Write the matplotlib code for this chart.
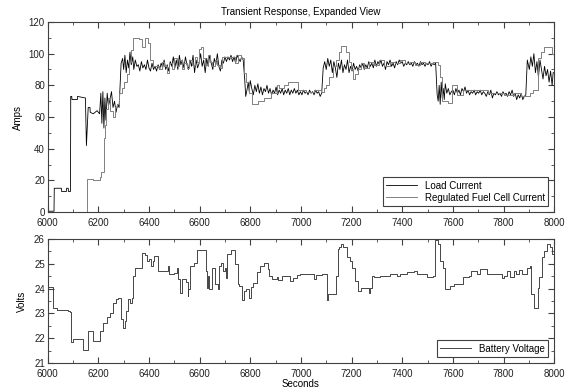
import matplotlib
matplotlib.use("Agg")
import matplotlib.pyplot as plt
from matplotlib.ticker import MultipleLocator

plt.rcParams['font.family'] = ['Liberation Sans', 'DejaVu Sans']
plt.rcParams['font.size'] = 7

# load current (black): seconds / amps
load_t = [6000, 6025, 6026, 6054, 6055, 6074, 6075, 6081, 6082, 6090, 6091, 6095, 6096, 6117,
          6118, 6149, 6153, 6160, 6167, 6168, 6180, 6195,
          6205, 6210, 6214, 6218, 6222, 6226, 6230, 6235, 6240, 6246, 6252, 6258, 6264, 6270,
          6276, 6282, 6290, 6296, 6300, 6305, 6310, 6315, 6320, 6325, 6330, 6336, 6340, 6346,
          6352, 6358, 6364, 6370, 6376, 6382, 6388, 6394, 6400, 6406, 6412, 6418, 6424, 6430,
          6436, 6442, 6448, 6454, 6460, 6466, 6472, 6478, 6484, 6490, 6496, 6502, 6508, 6514,
          6520, 6526, 6532, 6538, 6544, 6550, 6556, 6562, 6568, 6574, 6580, 6586, 6592, 6598,
          6604, 6610, 6616, 6622, 6628, 6634, 6640, 6646, 6652, 6658, 6664, 6670, 6676, 6682,
          6688, 6694, 6700, 6706, 6712, 6718, 6724, 6730, 6736, 6742, 6748, 6754, 6760, 6766,
          6772, 6778, 6782, 6788, 6792, 6796, 6800, 6806, 6812, 6818, 6824, 6830, 6836, 6842,
          6848, 6854, 6860, 6866, 6872, 6878, 6884, 6890, 6896, 6902, 6908, 6914, 6920, 6926,
          6932, 6938, 6944, 6950, 6956, 6962, 6968, 6974, 6980, 6986, 6992, 6998, 7004, 7010,
          7016, 7022, 7028, 7034, 7040, 7046, 7052, 7058, 7064, 7070, 7076, 7082, 7088, 7094,
          7100, 7106, 7112, 7118, 7124, 7130, 7136, 7142, 7148, 7154, 7160, 7166, 7172, 7178,
          7184, 7190, 7196, 7202, 7208, 7214, 7220, 7226, 7232, 7238, 7244, 7250, 7256, 7262,
          7268, 7274, 7280, 7286, 7292, 7298, 7304, 7310, 7316, 7322, 7328, 7334, 7340, 7346,
          7352, 7358, 7364, 7370, 7376, 7382, 7388, 7394, 7400, 7406, 7412, 7418, 7424, 7430,
          7436, 7442, 7448, 7454, 7460, 7466, 7472, 7478, 7484, 7490, 7496, 7502, 7508, 7514,
          7520, 7526, 7532, 7538, 7542, 7546, 7550, 7554, 7558, 7562, 7566, 7570, 7576, 7582,
          7588, 7594, 7600, 7606, 7612, 7618, 7624, 7630, 7636, 7642, 7648, 7654, 7660, 7666,
          7672, 7678, 7684, 7690, 7696, 7702, 7708, 7714, 7720, 7726, 7732, 7738, 7744, 7750,
          7756, 7762, 7768, 7774, 7780, 7786, 7792, 7798, 7804, 7810, 7816, 7822, 7828, 7834,
          7840, 7846, 7852, 7858, 7864, 7870, 7876, 7882, 7888, 7894, 7902, 7908, 7914, 7920,
          7926, 7932, 7938, 7944, 7950, 7956, 7962, 7968, 7974, 7980, 7986, 7992, 7996, 8000]
load_a = [0.5, 0.5, 15, 15, 13, 13, 15, 15, 13, 13, 73, 73, 71, 71,
          73, 72, 42, 66, 66, 63, 62, 64,
          62, 75, 56, 76, 53, 72, 58, 75, 67, 71, 76, 66, 70, 63,
          68, 66, 94, 97, 90, 99, 88, 96, 91, 101, 93, 98, 90, 96,
          92, 93, 89, 95, 91, 93, 90, 96, 91, 89, 94, 90, 92, 89,
          93, 90, 94, 91, 96, 90, 93, 89, 95, 92, 98, 91, 96, 90,
          99, 93, 96, 91, 98, 93, 90, 96, 92, 99, 88, 96, 91, 94,
          100, 92, 96, 88, 97, 92, 99, 94, 90, 97, 93, 100, 92, 89,
          96, 94, 98, 95, 98, 96, 99, 95, 98, 94, 99, 97, 95, 98,
          96, 84, 73, 78, 82, 76, 83, 78, 74, 80, 76, 81, 75, 79,
          74, 78, 76, 80, 75, 78, 74, 77, 75, 79, 74, 77, 75, 78,
          74, 77, 75, 78, 74, 77, 75, 78, 75, 77, 74, 76, 74, 77,
          75, 76, 74, 77, 75, 76, 74, 77, 75, 76, 73, 75, 91, 95,
          90, 97, 92, 96, 88, 95, 91, 85, 94, 90, 96, 88, 93, 90,
          96, 88, 92, 89, 94, 90, 92, 89, 93, 91, 94, 90, 93, 91,
          95, 92, 94, 91, 96, 92, 95, 93, 96, 92, 94, 90, 95, 93,
          96, 92, 94, 91, 95, 93, 96, 94, 95, 92, 94, 93, 95, 93,
          94, 92, 95, 93, 94, 92, 95, 93, 94, 92, 94, 93, 95, 92,
          94, 93, 94, 74, 70, 80, 68, 82, 72, 78, 71, 81, 75, 78,
          74, 76, 77, 74, 78, 75, 77, 74, 78, 76, 79, 75, 77, 74,
          76, 75, 77, 74, 76, 75, 77, 74, 76, 75, 73, 76, 74, 77,
          72, 75, 74, 76, 74, 75, 73, 76, 74, 75, 73, 76, 74, 77,
          73, 75, 71, 74, 72, 75, 71, 73, 74, 96, 90, 98, 92, 100,
          88, 95, 85, 96, 90, 84, 92, 86, 90, 82, 89, 80, 88, 88]

# regulated fuel cell current (grey), step breakpoints
cell_t = [6000, 6155, 6180, 6205, 6212, 6222, 6226, 6232, 6240, 6248, 6256, 6266, 6274, 6282,
          6292, 6302, 6312, 6320, 6328, 6336, 6360, 6374, 6386, 6396, 6404, 6414, 6440, 6450,
          6460, 6470, 6480, 6490, 6500, 6510, 6520, 6530, 6540, 6550, 6560, 6570, 6580, 6590,
          6596, 6606, 6614, 6622, 6632, 6640, 6650, 6660, 6670, 6680, 6690, 6700, 6740, 6750,
          6762, 6775, 6785, 6795, 6808, 6830, 6855, 6880, 6905, 6915, 6935, 6950, 6990, 7020,
          7050, 7080, 7090, 7100, 7112, 7125, 7140, 7150, 7158, 7178, 7188, 7196, 7204, 7214,
          7224, 7236, 7250, 7270, 7290, 7310, 7330, 7350, 7370, 7390, 7410, 7430, 7450, 7470,
          7490, 7520, 7540, 7548, 7556, 7580, 7598, 7618, 7640, 7740, 7800, 7840, 7870, 7905,
          7918, 7935, 7948, 7958, 7992, 8000]
cell_a = [0, 21, 20, 22, 25, 47, 55, 65, 72, 64, 60, 66, 68, 75,
          78, 82, 87, 95, 102, 110, 109, 104, 110, 107, 96, 92, 90, 95,
          92, 88, 94, 90, 97, 92, 96, 90, 94, 91, 96, 93, 98, 95,
          103, 104, 97, 93, 99, 95, 92, 96, 93, 91, 98, 98, 94, 99,
          97, 88, 82, 75, 68, 70, 72, 75, 80, 78, 80, 82, 77, 76,
          77, 76, 78, 80, 85, 92, 96, 101, 105, 101, 95, 90, 84, 87,
          90, 94, 91, 95, 93, 96, 92, 95, 94, 96, 94, 95, 93, 95,
          94, 95, 93, 85, 70, 69, 80, 74, 77, 75, 74, 75, 73, 75,
          77, 97, 101, 104, 100, 100]

# battery voltage, step breakpoints
batt_t = [6000, 6022, 6036, 6082, 6088, 6092, 6101, 6138, 6160, 6180, 6207, 6220, 6233, 6246,
          6259, 6268, 6278, 6289, 6296, 6305, 6311, 6318, 6325, 6331, 6338, 6345, 6358, 6374,
          6385, 6394, 6400, 6407, 6414, 6420, 6427, 6437, 6470, 6477, 6480, 6500, 6510, 6516,
          6523, 6530, 6546, 6553, 6556, 6563, 6576, 6590, 6624, 6628, 6635, 6639, 6648, 6661,
          6671, 6678, 6684, 6691, 6700, 6704, 6707, 6724, 6741, 6750, 6757, 6767, 6777, 6784,
          6795, 6803, 6812, 6822, 6828, 6839, 6845, 6855, 6870, 6875, 6885, 6905, 6911, 6924,
          6950, 6957, 6970, 6983, 6997, 7023, 7047, 7052, 7060, 7083, 7102, 7106, 7139, 7146,
          7152, 7160, 7168, 7181, 7195, 7201, 7214, 7227, 7238, 7267, 7274, 7280, 7290, 7313,
          7340, 7353, 7372, 7379, 7392, 7418, 7445, 7458, 7484, 7497, 7521, 7530, 7540, 7550,
          7563, 7567, 7590, 7603, 7642, 7662, 7671, 7682, 7695, 7708, 7734, 7748, 7794, 7803,
          7813, 7827, 7840, 7850, 7860, 7873, 7893, 7906, 7908, 7919, 7935, 7942, 7952, 7959,
          7972, 7982, 7991, 8000]
batt_v = [24.08, 23.2, 23.15, 23.1, 23.05, 21.84, 21.95, 21.54, 22.28, 21.9, 22.3, 22.6, 22.85, 23.0,
          23.43, 23.57, 23.64, 22.76, 22.42, 22.7, 23.1, 23.57, 23.43, 23.64, 24.51, 24.85, 24.85, 25.42,
          25.36, 25.12, 25.18, 24.92, 25.1, 25.32, 25.3, 24.72, 24.69, 24.92, 24.58, 24.62, 24.85, 24.38,
          23.84, 24.38, 24.25, 23.7, 24.0, 24.92, 25.03, 25.55, 24.7, 24.04, 24.5, 24.0, 24.85, 24.2,
          24.0, 24.92, 25.05, 24.7, 24.85, 24.41, 25.39, 25.55, 25.0, 24.18, 24.1, 23.54, 23.9, 24.0,
          23.64, 24.05, 24.24, 24.24, 24.65, 24.92, 24.92, 25.03, 24.8, 24.5, 24.4, 24.45, 24.34, 24.51,
          24.51, 24.3, 24.42, 24.55, 24.58, 24.58, 24.58, 24.4, 24.55, 24.58, 23.53, 23.8, 24.5, 25.6,
          25.66, 25.8, 25.66, 25.26, 25.12, 24.85, 24.31, 23.9, 24.04, 23.84, 24.04, 24.51, 24.45, 24.51,
          24.51, 24.6, 24.58, 24.51, 24.6, 24.65, 24.69, 24.6, 24.58, 24.47, 24.51, 25.96, 25.8, 25.12,
          24.85, 24.0, 24.1, 24.2, 24.47, 24.51, 24.72, 24.69, 24.6, 24.78, 24.58, 24.58, 24.42, 24.51,
          24.72, 24.45, 24.69, 24.58, 24.74, 24.58, 24.85, 24.92, 23.77, 23.23, 24.04, 24.45, 25.26, 25.53,
          25.8, 25.66, 25.4, 25.4]

EDGE = '#404040'

fig = plt.figure(figsize=(5.71, 3.90), dpi=100)
ax1 = fig.add_axes([0.0835, 0.4564, 0.887, 0.4872])
ax2 = fig.add_axes([0.0835, 0.0692, 0.887, 0.318])

ax1.plot(load_t, load_a, color='black', lw=0.6, label='Load Current')
ax1.plot(cell_t, cell_a, drawstyle='steps-post', color='#808080', lw=0.7,
         label='Regulated Fuel Cell Current')
ax1.set_xlim(6000, 8000)
ax1.set_ylim(0, 120)
ax1.xaxis.set_major_locator(MultipleLocator(200))
ax1.xaxis.set_minor_locator(MultipleLocator(100))
ax1.yaxis.set_major_locator(MultipleLocator(20))
ax1.yaxis.set_minor_locator(MultipleLocator(10))
ax1.set_ylabel('Amps', labelpad=4)
ax1.set_title('Transient Response, Expanded View', fontsize=7, pad=5)

ax2.plot(batt_t, batt_v, drawstyle='steps-post', color='#383838', lw=0.65, label='Battery Voltage')
ax2.set_xlim(6000, 8000)
ax2.set_ylim(21, 26)
ax2.xaxis.set_major_locator(MultipleLocator(200))
ax2.xaxis.set_minor_locator(MultipleLocator(100))
ax2.yaxis.set_major_locator(MultipleLocator(1))
ax2.yaxis.set_minor_locator(MultipleLocator(0.5))
ax2.set_ylabel('Volts', labelpad=5)
ax2.set_xlabel('Seconds', labelpad=0.5)

for ax in (ax1, ax2):
    for sp in ax.spines.values():
        sp.set_color(EDGE)
        sp.set_linewidth(0.8)
    ax.tick_params(which='both', direction='in', top=True, right=True, colors=EDGE,
                   labelcolor='#202020', labelsize=7)
    ax.tick_params(axis='y', pad=2)
    ax.tick_params(axis='x', pad=4)
    ax.tick_params(which='major', length=4)
    ax.tick_params(which='minor', length=2.5)
    leg = ax.legend(loc='lower right', fontsize=7, frameon=True, fancybox=False,
                    edgecolor=EDGE, framealpha=1, handlelength=3.2, borderpad=0.35,
                    labelspacing=0.2, borderaxespad=0.6)
    leg.get_frame().set_linewidth(0.8)

fig.savefig('out.png', dpi=100)
